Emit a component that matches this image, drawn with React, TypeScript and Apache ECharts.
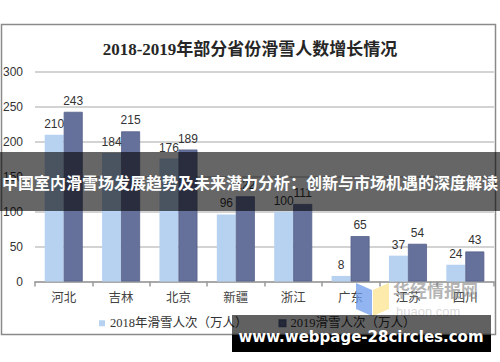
import React, { useEffect, useRef } from "react";
import * as echarts from "echarts";

const categories = ["河北", "吉林", "北京", "新疆", "浙江", "广东", "江苏", "四川"];
const values2018 = [210, 184, 176, 96, 100, 8, 37, 24];
const values2019 = [243, 215, 189, 122, 111, 65, 54, 43];
const seriesNames = ["2018年滑雪人次（万人）", "2019滑雪人次（万人）"];
const titleText = "2018-2019年部分省份滑雪人数增长情况";
const bannerText = "中国室内滑雪场发展趋势及未来潜力分析：创新与市场机遇的深度解读";
const siteText = "www.webpage-28circles.com";
const watermarkText = "华经情报网";
const watermarkSub = "huaon.com";

const SERIF = "'Liberation Serif', 'DejaVu Serif', 'Noto Sans CJK SC', serif";
const SANS = "'Liberation Sans', Arial, 'Noto Sans CJK SC', sans-serif";

export default function App() {
  const ref = useRef<HTMLDivElement>(null);
  useEffect(() => {
    if (!ref.current) return;
    const chart = echarts.init(ref.current, null, { renderer: "svg" });
    chart.setOption({
      animation: false,
      backgroundColor: "#ffffff",
      title: {
        text: titleText,
        left: "center",
        top: 36,
        textStyle: { fontFamily: SERIF, fontSize: 17, fontWeight: "bold", color: "#262626" },
      },
      grid: { left: 34, right: 6, top: 72, bottom: 80.5, containLabel: false },
      legend: {
        data: seriesNames,
        left: 94,
        top: 312,
        icon: "rect",
        itemWidth: 6,
        itemHeight: 6,
        itemGap: 31,
        textStyle: { fontFamily: SERIF, fontSize: 12.5, color: "#333" },
      },
      xAxis: {
        type: "category",
        data: categories,
        axisLine: { lineStyle: { color: "#9a9a9a", width: 1.5 } },
        axisTick: { show: true, length: 5, lineStyle: { color: "#9a9a9a", width: 1.5 } },
        axisLabel: { fontFamily: SERIF, fontSize: 12.5, color: "#444", margin: 10 },
      },
      yAxis: {
        type: "value",
        min: 0,
        max: 300,
        interval: 50,
        axisLine: { show: false },
        axisTick: { show: false },
        axisLabel: { fontFamily: SANS, fontSize: 12, color: "#333", margin: 12 },
        splitLine: { lineStyle: { color: "#c4c4c4", width: 1.5 } },
      },
      series: [
        {
          name: seriesNames[0],
          type: "bar",
          data: values2018,
          barWidth: 19,
          barGap: "0%",
          itemStyle: { color: "#b7d2f1" },
          label: { show: true, position: "top", distance: 5, fontFamily: SANS, fontSize: 12, color: "#333" },
        },
        {
          name: seriesNames[1],
          type: "bar",
          data: values2019,
          barWidth: 19,
          barGap: "0%",
          itemStyle: { color: "#66719b", borderColor: "#56618a", borderWidth: 0.8 },
          label: { show: true, position: "top", distance: 5, fontFamily: SANS, fontSize: 12, color: "#333" },
        },
      ],
      graphic: [
        {
          type: "rect",
          z: -10,
          silent: true,
          shape: { x: 1.5, y: 24.5, width: 494, height: 310 },
          style: { fill: "none", stroke: "#8a8a8a", lineWidth: 1.5 },
        },
        {
          type: "polygon",
          z: 50,
          shape: { points: [[356, 283], [372, 290], [372, 316], [356, 309]] },
          style: { fill: "rgba(110,155,235,0.75)" },
        },
        {
          type: "polygon",
          z: 50,
          shape: { points: [[373, 290], [389, 283], [389, 309], [373, 316]] },
          style: { fill: "rgba(253,230,150,0.8)" },
        },
        {
          type: "text",
          z: 50,
          x: 393,
          y: 289,
          style: {
            text: watermarkText,
            fontFamily: "'Noto Sans CJK SC', sans-serif",
            fontSize: 17,
            fontWeight: "bold",
            fill: "rgba(130,130,130,0.6)",
            verticalAlign: "middle",
          },
        },
        {
          type: "text",
          z: 50,
          x: 396,
          y: 311,
          style: {
            text: watermarkSub,
            fontFamily: SANS,
            fontSize: 13,
            fill: "rgba(160,160,160,0.4)",
            verticalAlign: "middle",
          },
        },
        {
          type: "rect",
          z: 100,
          shape: { x: 0, y: 152, width: 500, height: 59 },
          style: { fill: "rgba(0,0,0,0.6)" },
        },
        {
          type: "text",
          z: 101,
          x: 250,
          y: 182,
          style: {
            text: bannerText,
            fontFamily: "'Noto Sans CJK SC', sans-serif",
            fontSize: 16,
            fontWeight: "bold",
            fill: "#ffffff",
            align: "center",
            verticalAlign: "middle",
          },
        },
        {
          type: "rect",
          z: 100,
          shape: { x: 232, y: 315, width: 259, height: 20 },
          style: { fill: "rgba(0,0,0,0.62)" },
        },
        {
          type: "rect",
          z: 100,
          shape: { x: 232, y: 335, width: 259, height: 17 },
          style: { fill: "#000000" },
        },
        {
          type: "text",
          z: 101,
          x: 361,
          y: 337,
          style: {
            text: siteText,
            fontFamily: "'DejaVu Sans', sans-serif",
            fontSize: 15,
            fontWeight: "bold",
            fill: "#ffffff",
            align: "center",
            verticalAlign: "middle",
          },
        },
      ],
    });
    return () => chart.dispose();
  }, []);
  return (
    <div
      ref={ref}
      style={{ position: "absolute", left: 0, top: 0, width: 500, height: 362 }}
    />
  );
}
